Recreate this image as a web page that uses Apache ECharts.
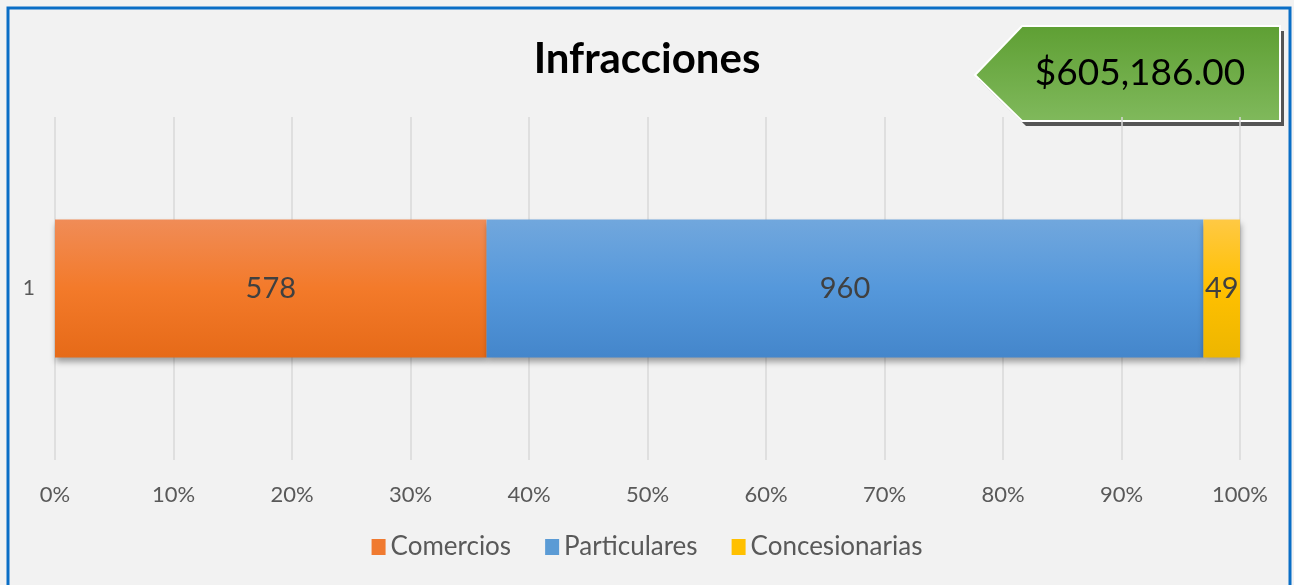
<!DOCTYPE html>
<html>
<head>
<meta charset="utf-8">
<script src="https://cdn.jsdelivr.net/npm/echarts@6/dist/echarts.min.js"></script>
<style>
  html, body { margin: 0; padding: 0; background: #fff; }
  #chart { width: 1294px; height: 585px; }
</style>
</head>
<body>
<div id="chart"></div>
<script>
// datos
const categories = ['1']
const seriesNames = ['Comercios', 'Particulares', 'Concesionarias']
const comercios = [578]
const particulares = [960]
const concesionarias = [49]
const percentTicks = [0, 10, 20, 30, 40, 50, 60, 70, 80, 90, 100]
const totalLabel = '$605,186.00'

const raw = [comercios, particulares, concesionarias]
const totals = categories.map((c, i) => raw.reduce((s, arr) => s + arr[i], 0))

const grad = (top, mid, bottom) => new echarts.graphic.LinearGradient(0, 0, 0, 1, [
  { offset: 0, color: top },
  { offset: 0.5, color: mid },
  { offset: 1, color: bottom }
])

const colors = [
  grad('#F08C57', '#F37A2A', '#E66A18'),
  grad('#71A7DD', '#5598DB', '#4486CB'),
  grad('#FFC944', '#FFC000', '#EDB600')
]
const legendColors = ['#F07A30', '#5B9BD5', '#FFC000']
const font = 'Lato, "Open Sans", sans-serif'

const chart = echarts.init(document.getElementById('chart'))

chart.setOption({
  backgroundColor: '#F2F2F2',
  animation: false,
  title: {
    text: 'Infracciones',
    left: 'center',
    top: 33,
    textStyle: { fontFamily: font, fontSize: 42, fontWeight: 'bold', color: '#000' }
  },
  grid: { left: 55, right: 54, top: 117, height: 343 },
  legend: {
    bottom: 20,
    left: 'center',
    itemWidth: 14,
    itemHeight: 16,
    itemGap: 34,
    icon: 'rect',
    textStyle: { fontFamily: font, fontSize: 26, color: '#595959' },
    data: seriesNames.map((n, i) => ({ name: n, itemStyle: { color: legendColors[i] } }))
  },
  xAxis: {
    type: 'value',
    min: 0,
    max: 100,
    interval: 10,
    axisLine: { show: false },
    axisTick: { show: false },
    splitLine: { lineStyle: { color: '#D9D9D9', width: 1.5 } },
    axisLabel: {
      margin: 24,
      fontFamily: font,
      fontSize: 22,
      color: '#595959',
      formatter: v => percentTicks.includes(v) ? v + '%' : ''
    }
  },
  yAxis: {
    type: 'category',
    data: categories,
    axisLine: { show: false },
    axisTick: { show: false },
    axisLabel: { margin: 20, fontFamily: font, fontSize: 21, color: '#595959' }
  },
  series: raw.map((arr, si) => ({
    name: seriesNames[si],
    type: 'bar',
    stack: 'total',
    barWidth: 138,
    data: arr.map((v, i) => ({ value: v / totals[i] * 100, raw: v })),
    itemStyle: {
      color: colors[si],
      shadowColor: 'rgba(0,0,0,0.35)',
      shadowBlur: 6,
      shadowOffsetY: 4,
      shadowOffsetX: 1
    },
    label: {
      show: true,
      position: 'inside',
      fontFamily: font,
      fontSize: 29,
      color: '#404040',
      formatter: p => p.data.raw
    }
  })),
  graphic: [
    {
      type: 'rect',
      shape: { x: 8, y: 8, width: 1282, height: 600 },
      style: { fill: null, stroke: '#0A6EC6', lineWidth: 3 },
      silent: true
    },
    {
      type: 'polygon',
      shape: { points: [[979, 80], [1026, 31], [1284, 31], [1284, 126], [1026, 126]] },
      style: { fill: '#555555' },
      silent: true
    },
    {
      type: 'polygon',
      shape: { points: [[975, 75], [1022, 26], [1280, 26], [1280, 121], [1022, 121]] },
      style: {
        fill: new echarts.graphic.LinearGradient(0, 0, 0, 1, [
          { offset: 0, color: '#5E9F33' },
          { offset: 1, color: '#80B95C' }
        ]),
        stroke: '#FFFFFF',
        lineWidth: 2
      },
      silent: true
    },
    {
      type: 'text',
      x: 1140,
      y: 73,
      style: {
        text: totalLabel,
        fontFamily: font,
        fontSize: 37,
        fill: '#000',
        align: 'center',
        verticalAlign: 'middle'
      },
      silent: true
    }
  ]
})
</script>
</body>
</html>
